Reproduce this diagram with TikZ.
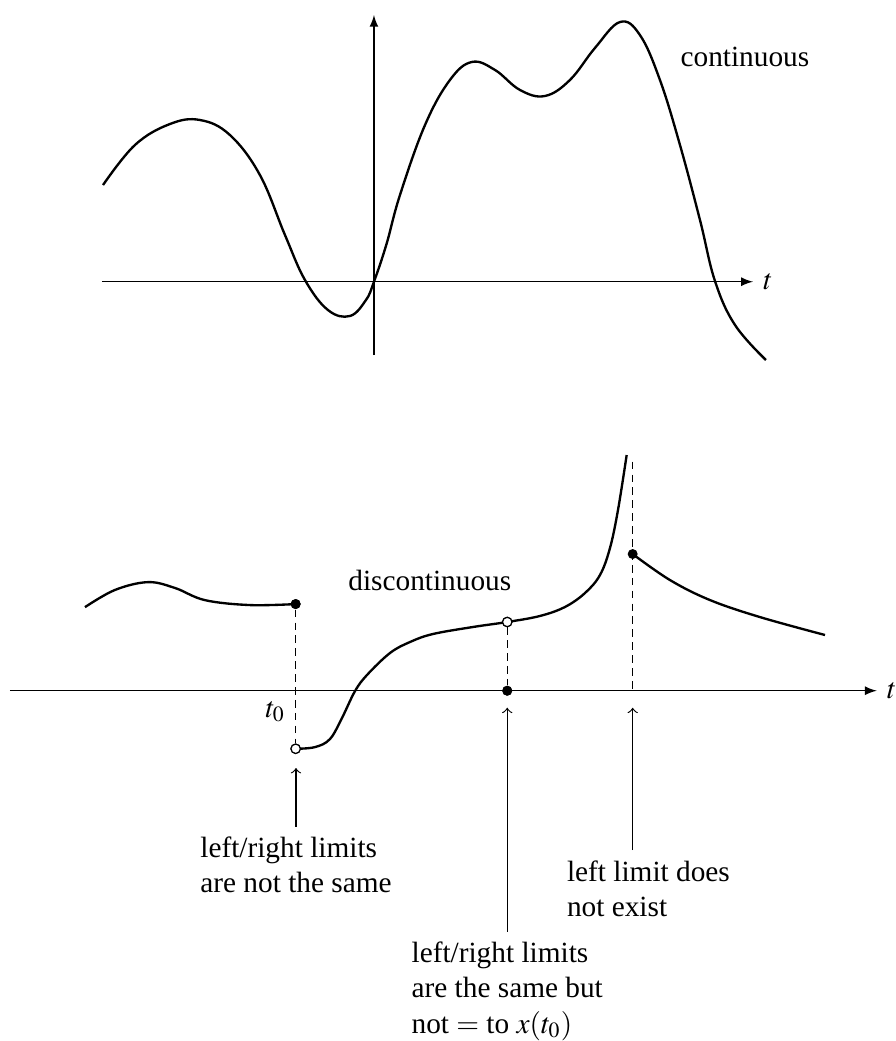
\documentclass[tikz,border=0pt]{standalone}
\usepackage{mathptmx}
\usepackage[no-math]{fontspec}
\setmainfont{Liberation Serif}

\begin{document}
\begin{tikzpicture}[
    axis/.style={-latex},
    curve/.style={thick},
    guide/.style={dash pattern=on 2.6pt off 1.8pt},
    pointer/.style={->},
    filled/.style={circle, fill=black, inner sep=0pt, minimum size=3.4pt},
    hollow/.style={circle, draw, fill=white, inner sep=0pt, minimum size=3.2pt},
    caption/.style={align=left, anchor=north}
  ]
    \useasboundingbox (-4.484,-9.104) rectangle (6.259,3.378);

    % Continuous signal
    \draw[axis] (-3.261,0) -- (4.544,0) node[right] (tA) {$t$};
    \draw[axis] (0,-0.879) -- (0,3.198);
    \draw[curve] plot[smooth, tension=0.65] coordinates {
      (-3.249,1.159) (-2.866,1.639) (-2.446,1.891) (-2.086,1.939) (-1.727,1.759)
      (-1.367,1.279) (-1.067,0.560) (-0.827,0.020) (-0.552,-0.339) (-0.288,-0.411)
      (-0.096,-0.219) (0,0) (0.15,0.45) (0.312,1.040) (0.612,1.879) (0.911,2.419)
      (1.175,2.635) (1.451,2.539) (1.751,2.299) (2.050,2.227) (2.350,2.419)
      (2.650,2.803) (2.950,3.114) (3.189,2.958) (3.429,2.419) (3.669,1.640)
      (3.909,0.740) (4.089,0.008) (4.329,-0.519) (4.700,-0.939)};
    \node (cont) at (4.448,2.694) {continuous};

    % Discontinuous signal
    \draw[axis] (-4.365,-4.904) -- (6.028,-4.904) node[right] (tB) {$t$};
    \coordinate (top3) at (3.102,-2.158);
    \coordinate (ax3) at (3.102,-4.904);
    \node[filled] (j1) at (-0.939,-3.865) {};
    \node[hollow] (o1) at (-0.939,-5.600) {};
    \node[hollow] (o2) at (1.598,-4.080) {};
    \node[filled] (j2) at (1.598,-4.904) {};

    % Dashed guides
    \draw[guide] (j1) -- (o1);
    \draw[guide] (o2) -- (j2);
    \draw[guide] (top3) -- (ax3);
    \node[left] (tzero) at (-0.939,-5.156) {$t_0$};

    % Pieces
    \draw[curve] plot[smooth, tension=0.6] coordinates {
      (-3.465,-3.902) (-3.106,-3.696) (-2.710,-3.602) (-2.386,-3.672) (-2.026,-3.818)
      (-1.487,-3.877) (-0.939,-3.865)};
    \draw[curve] plot[smooth, tension=0.6] coordinates {
      (-0.935,-5.600) (-0.707,-5.580) (-0.528,-5.484) (-0.384,-5.232) (-0.228,-4.910)
      (-0.084,-4.716) (0.192,-4.452) (0.432,-4.320) (0.707,-4.224) (1.187,-4.140)
      (1.598,-4.080) (1.990,-4.008) (2.290,-3.900) (2.530,-3.733) (2.710,-3.517)
      (2.830,-3.193) (2.926,-2.737) (3.030,-2.078)};
    \draw[curve] plot[smooth, tension=0.6] coordinates {
      (3.102,-3.265) (3.549,-3.577) (4.029,-3.817) (4.628,-4.021) (5.408,-4.236)};
    \node[filled] (j1) at (-0.939,-3.865) {};
    \node[hollow] (o1) at (-0.939,-5.600) {};
    \node[hollow] (o2) at (1.598,-4.080) {};
    \node[filled] (j2) at (1.598,-4.904) {};
    \node[filled] (j3) at (3.102,-3.265) {};
    \node (disc) at (0.67,-3.577) {discontinuous};

    % Labels
    \coordinate (tip1) at (-0.935,-5.831);
    \coordinate (tip2) at (1.598,-5.108);
    \coordinate (tip3) at (3.102,-5.108);
    \node[caption] (lbl1) at (-0.935,-6.535) {left/right limits\\are not the same};
    \node[caption] (lbl2) at (1.598,-7.794) {left/right limits\\are the same but\\not $=$ to $x(t_0)$};
    \node[caption] (lbl3) at (3.291,-6.814) {left limit does\\not exist};
    \draw[pointer] (lbl1.north) -- (tip1);
    \draw[pointer] (lbl2.north) -- (tip2);
    \draw[pointer] (lbl3.north -| tip3) -- (tip3);
  \end{tikzpicture}
\end{document}
